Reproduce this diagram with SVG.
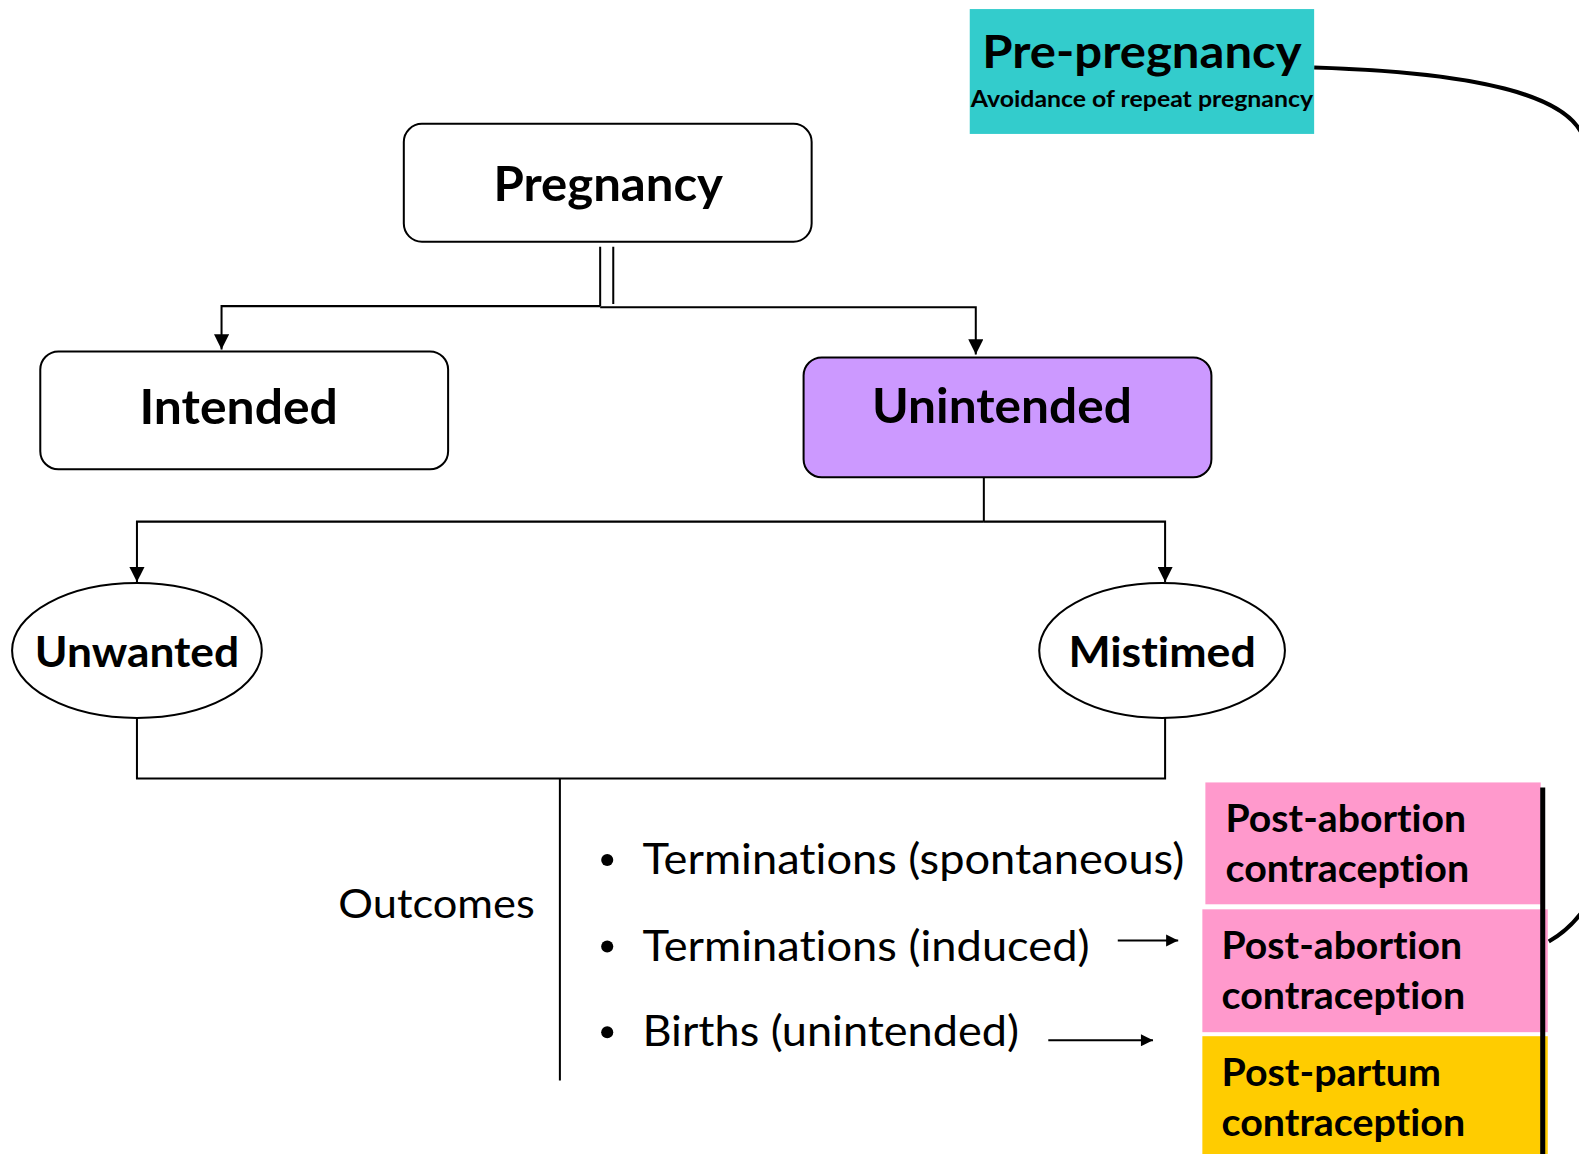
<svg xmlns="http://www.w3.org/2000/svg" width="1579" height="1154" viewBox="0 0 1579 1154">
<style>
.t{font-family:Lato,"Open Sans","Liberation Sans",sans-serif;fill:#000;font-variant-ligatures:none;font-feature-settings:"liga" 0}
.b{font-weight:bold}
.box{stroke:#000;stroke-width:2}
.ln{stroke:#000;stroke-width:2;fill:none}
</style>
<defs>
<marker id="ah" viewBox="0 0 10 10" refX="10" refY="5" markerWidth="14" markerHeight="12" markerUnits="userSpaceOnUse" orient="auto">
<path d="M0,0 L10,5 L0,10 z" fill="#000"/>
</marker>
<marker id="ah2" viewBox="0 0 10 10" refX="10" refY="5" markerWidth="18" markerHeight="15" markerUnits="userSpaceOnUse" orient="auto">
<path d="M0,0 L10,5 L0,10 z" fill="#000"/>
</marker>
</defs>
<rect width="1579" height="1154" fill="#fff"/>
<g transform="scale(1.007)">
<g id="connectors">
<path class="ln" d="M596,245 V304 M609,245 V302"/>
<path class="ln" d="M596,304 H220 V347" marker-end="url(#ah2)"/>
<path class="ln" d="M596,305 H969 V352" marker-end="url(#ah2)"/>
<path class="ln" d="M977,474 V518"/>
<path class="ln" d="M977,518 H136 V578" marker-end="url(#ah2)"/>
<path class="ln" d="M977,518 H1157 V578" marker-end="url(#ah2)"/>
<path class="ln" d="M136,713 V773 H1157 V713"/>
<path class="ln" d="M556,773 V1073"/>
<path class="ln" d="M1110,934 H1170" marker-end="url(#ah)"/>
<path class="ln" d="M1041,1033 H1145" marker-end="url(#ah)"/>
<path d="M1305,67 C1470,72 1555,95 1572,135 C1640,300 1640,800 1575,900 C1565,915 1552,927 1538,935" fill="none" stroke="#000" stroke-width="4"/>
</g>
<g id="pre-pregnancy">
<rect x="963" y="9" width="342" height="124" fill="#33CCCC"/>
<text class="t b" x="1134" y="68" font-size="46" text-anchor="middle" textLength="317" lengthAdjust="spacingAndGlyphs">Pre-pregnancy</text>
<text class="t b" x="1134" y="106" font-size="22" text-anchor="middle" textLength="340" lengthAdjust="spacingAndGlyphs">Avoidance of repeat pregnancy</text>
</g>
<g id="pregnancy">
<rect class="box" x="401" y="123" width="405" height="117" rx="18" fill="#fff"/>
<text class="t b" x="604" y="200" font-size="47" text-anchor="middle" textLength="228" lengthAdjust="spacingAndGlyphs">Pregnancy</text>
</g>
<g id="intended">
<rect class="box" x="40" y="349" width="405" height="117" rx="18" fill="#fff"/>
<text class="t b" x="237" y="421" font-size="47" text-anchor="middle" textLength="197" lengthAdjust="spacingAndGlyphs">Intended</text>
</g>
<g id="unintended">
<rect class="box" x="798" y="355" width="405" height="119" rx="18" fill="#CC99FF"/>
<text class="t b" x="995" y="420" font-size="47" text-anchor="middle" textLength="258" lengthAdjust="spacingAndGlyphs">Unintended</text>
</g>
<g id="unwanted">
<ellipse class="box" cx="136" cy="646" rx="124" ry="67" fill="#fff"/>
<text class="t b" x="136" y="662" font-size="41" text-anchor="middle" textLength="203" lengthAdjust="spacingAndGlyphs">Unwanted</text>
</g>
<g id="mistimed">
<ellipse class="box" cx="1154" cy="646" rx="122" ry="67" fill="#fff"/>
<text class="t b" x="1154" y="662" font-size="41" text-anchor="middle" textLength="186" lengthAdjust="spacingAndGlyphs">Mistimed</text>
</g>
<g id="outcomes">
<text class="t" x="336" y="912" font-size="41" textLength="195" lengthAdjust="spacingAndGlyphs">Outcomes</text>
<circle cx="603" cy="854" r="6"/>
<circle cx="603" cy="940" r="6"/>
<circle cx="603" cy="1025" r="6"/>
<text class="t" x="638" y="868" font-size="43" textLength="538" lengthAdjust="spacingAndGlyphs">Terminations (spontaneous)</text>
<text class="t" x="638" y="954" font-size="43" textLength="444" lengthAdjust="spacingAndGlyphs">Terminations (induced)</text>
<text class="t" x="638" y="1039" font-size="43" textLength="374" lengthAdjust="spacingAndGlyphs">Births (unintended)</text>
</g>
<g id="post-abortion-1">
<rect x="1197" y="777" width="333" height="121" fill="#FF99CC"/>
<text class="t b" x="1217" y="826" font-size="37" textLength="239" lengthAdjust="spacingAndGlyphs">Post-abortion</text>
<text class="t b" x="1217" y="876" font-size="37" textLength="242" lengthAdjust="spacingAndGlyphs">contraception</text>
</g>
<g id="post-abortion-2">
<rect x="1194" y="903" width="343" height="122" fill="#FF99CC"/>
<text class="t b" x="1213" y="952" font-size="37" textLength="239" lengthAdjust="spacingAndGlyphs">Post-abortion</text>
<text class="t b" x="1213" y="1002" font-size="37" textLength="242" lengthAdjust="spacingAndGlyphs">contraception</text>
</g>
<g id="post-partum">
<rect x="1194" y="1029" width="343" height="130" fill="#FFCC00"/>
<text class="t b" x="1213" y="1078" font-size="37" textLength="218" lengthAdjust="spacingAndGlyphs">Post-partum</text>
<text class="t b" x="1213" y="1128" font-size="37" textLength="242" lengthAdjust="spacingAndGlyphs">contraception</text>
</g>
<g id="bracket">
<path d="M1532,782 V1160" stroke="#000" stroke-width="5"/>
</g>
</g>
</svg>
